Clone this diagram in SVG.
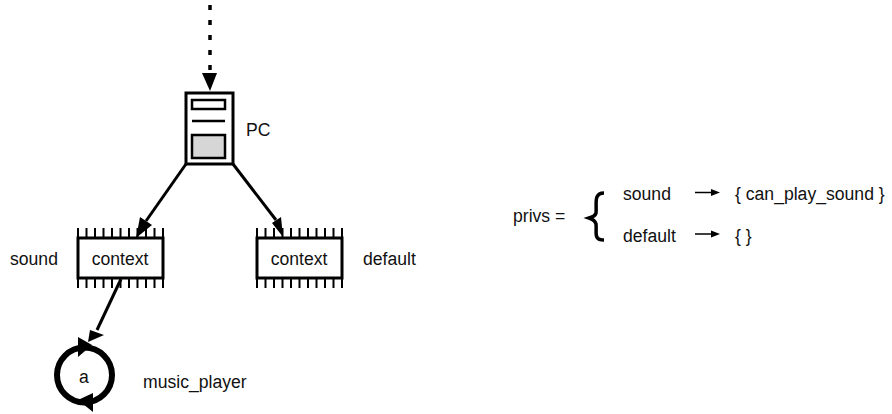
<svg xmlns="http://www.w3.org/2000/svg" width="892" height="414" viewBox="0 0 892 414">
<style>
text{font-family:"Liberation Sans",Arial,sans-serif;font-size:17.6px;fill:#111}
.w{fill:#fff;stroke:#000;stroke-width:3}
.c{stroke:#000;stroke-width:3;fill:none}
.p{stroke:#000;stroke-width:2;fill:none}
.m{text-anchor:middle}
</style>
<defs>
<path id="pins" class="p" d="M1 -10V10M9.500 -10V10M18 -10V10M26.500 -10V10M35 -10V10M43.500 -10V10M52 -10V10M60.500 -10V10M69 -10V10M77.500 -10V10M86 -10V10"/>
</defs>
<rect width="892" height="414" fill="#fff"/>
<g id="ctx-sound">
<use href="#pins" x="77" y="238"/><use href="#pins" x="77" y="278"/>
<rect class="w" x="78" y="238" width="85" height="40"/>
<text class="m" x="120" y="265">context</text>
<text x="10" y="265">sound</text>
</g>
<g id="ctx-default">
<use href="#pins" x="256" y="238"/><use href="#pins" x="256" y="278"/>
<rect class="w" x="257" y="238" width="85" height="40"/>
<text class="m" x="299" y="265">context</text>
<text x="363" y="265">default</text>
</g>
<g id="pc">
<rect class="w" x="186" y="93" width="47" height="71"/>
<rect x="192" y="100" width="33" height="9" fill="#fff" stroke="#000" stroke-width="2.500"/>
<path d="M192 121H225" stroke="#000" stroke-width="2.500"/>
<rect x="192" y="135" width="33" height="23" fill="#d6d6d6" stroke="#000" stroke-width="2.500"/>
<text x="246" y="136">PC</text>
</g>
<g id="music-player">
<circle cx="84.500" cy="375" r="27.500" fill="#fff" stroke="#000" stroke-width="6"/>
<path d="M78 337L78 357L92 345Z" fill="#000"/>
<path d="M93 393L93 412L78 400Z" fill="#000"/>
<text class="m" x="84" y="383">a</text>
<text x="143" y="388">music_player</text>
</g>
<g id="connectors">
<path d="M210 5V72" stroke="#000" stroke-width="3.500" stroke-dasharray="5 10" fill="none"/>
<path d="M202 73H217L210 91Z" fill="#000"/>
<path class="c" d="M186 164L146 221"/><path d="M136 238L140 217L152 225Z" fill="#000"/>
<path class="c" d="M233 164L276 220"/><path d="M283 237L272 223L281 217Z" fill="#000"/>
<path class="c" d="M121 279L97 330"/><path d="M88 342L90 330L104 335Z" fill="#000"/>
<path d="M695 192.500H714" stroke="#000" stroke-width="1.500" fill="none"/><path d="M720 192.500L711 189V196Z" fill="#000"/>
<path d="M695 234H714" stroke="#000" stroke-width="1.500" fill="none"/><path d="M720 234L711 230.500V237.500Z" fill="#000"/>
</g>
<g id="privs">
<text x="513" y="222">privs =</text>
<path d="M604 193C593 193 597 205 596 213C595 217 592 217 589 218C592 219 595 220 596 224C597 232 593 240 604 240" fill="none" stroke="#000" stroke-width="3.500"/>
<text x="623" y="200">sound</text>
<text x="623" y="242">default</text>
<text x="735" y="200">{ can_play_sound }</text>
<text x="735" y="242">{ }</text>
</g>
</svg>
